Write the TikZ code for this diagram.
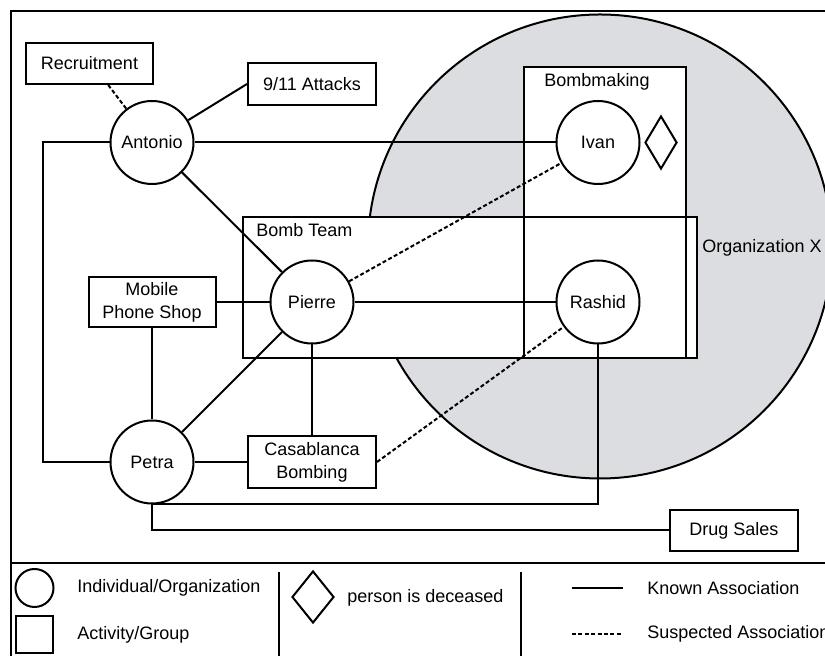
\documentclass[tikz,border=0pt]{standalone}
\usepackage{fontspec}
\setmainfont{Liberation Sans}
\usetikzlibrary{shapes.geometric}
\definecolor{orggray}{RGB}{220,221,225}
\pgfdeclarelayer{regions}
\pgfdeclarelayer{links}
\pgfsetlayers{regions,links,main}
\begin{document}
\begin{tikzpicture}[x=0.5pt,y=-0.5pt,
  every node/.style={font=\fontsize{9}{11.5}\selectfont},
  link/.style={line width=1pt},
  suspect/.style={line width=1pt,dash pattern=on 2pt off 1.2pt},
  person/.style={circle,draw,line width=1pt,fill=white,minimum size=41.5pt,inner sep=0pt},
  activity/.style={rectangle,draw,line width=1pt,fill=white,inner sep=0pt,
    minimum width=64pt,minimum height=20.5pt,align=center},
  txt/.style={inner sep=0pt},
  deceased/.style={diamond,draw,line width=1pt,inner sep=0pt,minimum width=16pt,minimum height=26.5pt}
]
\clip (0,0) rectangle (825,656);

% individuals
\node[person] (antonio) at (152,142.5) {Antonio};
\node[person] (pierre) at (312,302) {Pierre};
\node[person] (petra) at (152,462) {Petra};
\node[person] (ivan) at (598,142.5) {Ivan};
\node[person] (rashid) at (598,302) {Rashid};
\node[deceased] (dead) at (661,142.5) {};

% activities
\node[activity,minimum width=63.5pt] (recruit) at (89.5,63.5) {Recruitment};
\node[activity,minimum height=21pt] (attacks) at (312,84) {9/11 Attacks};
\node[activity,minimum width=63.5pt,minimum height=25pt] (mobile) at (152,302) {Mobile\\Phone Shop};
\node[activity,minimum height=26pt] (casa) at (312,462) {Casablanca\\Bombing};
\node[activity] (drug) at (734,530.5) {Drug Sales};

\coordinate (rail) at (43,0);

% Organization X and the groups inside it
\begin{pgfonlayer}{regions}
  \draw[line width=1.4pt] (11,11) rectangle (860,690);
  \draw[line width=1pt] (11,563) -- (860,563);
  \fill[orggray] (600,246.5) circle[radius=116pt];
  \draw[line width=1pt] (600,246.5) circle[radius=116pt];
  \fill[white] (243,217) rectangle (697,358);
  \fill[white] (524,67) rectangle (686,358);
  \draw[line width=1pt] (243,217) rectangle (697,358);
  \draw[line width=1pt] (524,67) rectangle (686,358);
\end{pgfonlayer}
\node[txt] (orglabel) at (762,248) {Organization X};
\node[txt,anchor=west] (bombteam) at (256,230) {Bomb Team};
\node[txt] (bombmaking) at (597,82) {Bombmaking};

% associations
\begin{pgfonlayer}{links}
  \draw[suspect] (recruit.-49.5) -- (antonio);
  \draw[link] (antonio) -- (attacks.west);
  \draw[link] (antonio) -- (ivan);
  \draw[link] (antonio) -- (pierre);
  \draw[link] (antonio.west) -- (antonio.west -| rail) |- (petra.west);
  \draw[link] (mobile.east) -- (pierre);
  \draw[link] (mobile.south) -- (petra);
  \draw[link] (pierre) -- (rashid);
  \draw[suspect] (pierre) -- (ivan);
  \draw[link] (pierre) -- (petra);
  \draw[link] (pierre) -- (casa.north);
  \draw[link] (petra) -- (casa.west);
  \draw[suspect] (casa.east) -- (rashid);
  \draw[link] (rashid.south) |- (petra.south);
  \draw[link] (petra.south) |- (drug.west);
\end{pgfonlayer}

% legend
\node[person,minimum size=19pt] (legcircle) at (34.5,588) {};
\node[draw,line width=1pt,inner sep=0pt,minimum size=18.5pt] (legsquare) at (34.5,634.5) {};
\node[txt,anchor=west] (legind) at (77,588) {Individual/Organization};
\node[txt,anchor=west] (legact) at (77,635) {Activity/Group};
\draw[line width=1pt] (279,572) -- (279,670);
\node[deceased,minimum width=21pt,minimum height=26pt] (legdead) at (313,597) {};
\node[txt,anchor=west] (legdeadtxt) at (347,598) {person is deceased};
\draw[line width=1pt] (521,572) -- (521,670);
\coordinate (k1) at (572,588);
\coordinate (k2) at (623,588);
\coordinate (s1) at (572,634);
\coordinate (s2) at (623,634);
\draw[link] (k1) -- (k2);
\draw[suspect] (s1) -- (s2);
\node[txt,anchor=west] (legknown) at (647,588) {Known Association};
\node[txt,anchor=west] (legsusp) at (647,634) {Suspected Association};
\end{tikzpicture}
\end{document}
